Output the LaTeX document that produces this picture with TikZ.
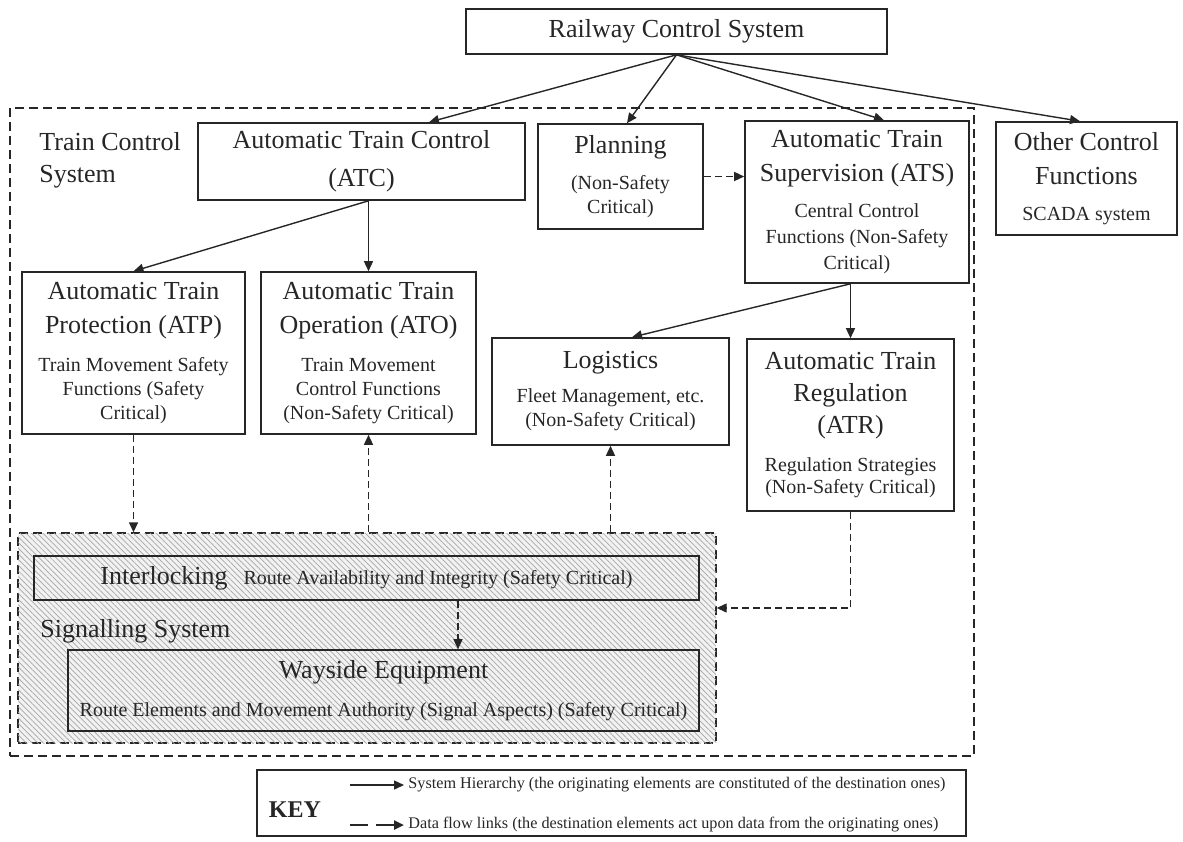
\documentclass[tikz,border=0pt]{standalone}
\usepackage{fontspec}
\setmainfont{Liberation Serif}
\usepackage{tikz}
\usetikzlibrary{arrows.meta,patterns.meta,positioning}
\definecolor{ink}{HTML}{262626}
\newcommand{\bigtxt}{\fontsize{13}{17}\selectfont}
\newcommand{\smtxt}{\fontsize{10}{12}\selectfont}
\newcommand{\keytxt}{\fontsize{8.1}{10}\selectfont}

\begin{document}
\begin{tikzpicture}[x=0.5pt,y=-0.5pt,
  box/.style={draw=ink,line width=0.8pt,align=center,inner sep=0pt,text=ink,font=\smtxt},
  hier/.style={ink,line width=0.7pt,-{Triangle[length=5pt,width=4.5pt]}},
  flow/.style={hier,dash pattern=on 3.5pt off 2pt},
  dashframe/.style={draw=ink,line width=0.7pt,dash pattern=on 4.5pt off 2.5pt},
  lbl/.style={inner sep=0pt,text=ink,font=\fontsize{13}{16}\selectfont}]
  \useasboundingbox (0,0) rectangle (1183,841);
  \node[dashframe,minimum width=482pt,minimum height=324pt] (tcs) at (492,432) {};
  \node[dashframe,fill=black!5,postaction={pattern={Lines[angle=-45,distance=2pt,line width=0.35pt]},pattern color=black!35},minimum width=349pt,minimum height=105pt] (sig) at (367,638) {};
  \node[box,minimum width=210.5pt,minimum height=22.5pt] (rcs) at (676.5,31.5) {\bigtxt Railway Control System};
  \node[box,minimum width=163.5pt,minimum height=38.5pt] (atc) at (361.5,161.5) {\bigtxt Automatic Train Control\\[7pt]\bigtxt (ATC)};
  \node[box,minimum width=82.5pt,minimum height=52.5pt] (plan) at (620.5,176.5) {\bigtxt Planning\\[6pt](Non-Safety\\Critical)};
  \node[box,minimum width=112pt,minimum height=81pt] (ats) at (857,202) {\bigtxt Automatic Train\\[5pt]\bigtxt Supervision (ATS)\\[6pt]Central Control\\[1pt]Functions (Non-Safety\\[1pt]Critical)};
  \node[box,minimum width=90.5pt,minimum height=56.5pt] (oth) at (1086.5,178.5) {\bigtxt Other Control\\[5pt]\bigtxt Functions\\[6pt]SCADA system};
  \node[box,minimum width=111.5pt,minimum height=81pt] (atp) at (133.5,353) {\bigtxt Automatic Train\\[5pt]\bigtxt Protection (ATP)\\[7pt]Train Movement Safety\\Functions (Safety\\Critical)};
  \node[box,minimum width=107.5pt,minimum height=81pt] (ato) at (368.5,353) {\bigtxt Automatic Train\\[5pt]\bigtxt Operation (ATO)\\[7pt]Train Movement\\Control Functions\\(Non-Safety Critical)};
  \node[box,minimum width=118.5pt,minimum height=53.5pt] (log) at (610.5,391.5) {\bigtxt Logistics\\[5pt]Fleet Management, etc.\\(Non-Safety Critical)};
  \node[box,minimum width=103.5pt,minimum height=86pt] (atr) at (850.5,425) {\bigtxt Automatic Train\\[4pt]\bigtxt Regulation\\[4pt]\bigtxt (ATR)\\[7pt]Regulation Strategies\\[-1pt](Non-Safety Critical)};
  \node[box,minimum width=332.5pt,minimum height=22pt] (ilk) at (366.5,578) {\bigtxt Interlocking\hspace{8pt}\smtxt Route Availability and Integrity (Safety Critical)};
  \node[box,minimum width=315.5pt,minimum height=40.5pt] (way) at (383.5,690.5) {\bigtxt Wayside Equipment\\[7pt]Route Elements and Movement Authority (Signal Aspects) (Safety Critical)};
  \node[lbl,anchor=north west,align=left] (tcslbl) at (39,132) {Train Control\\System};
  \node[lbl,anchor=base west] (siglbl) at (40,637) {Signalling System};
  \draw[hier] (rcs.south) -- ([xshift=33.75pt]atc.north);
  \draw[hier] (rcs.south) -- ([xshift=3.25pt]plan.north);
  \draw[hier] (rcs.south) -- ([xshift=13.5pt]ats.north);
  \draw[hier] (rcs.south) -- ([xshift=-3.25pt]oth.north);
  \draw[hier] (ato.north |- atc.south) -- (atp.north);
  \draw[hier] (ato.north |- atc.south) -- (ato.north);
  \draw[hier] (atr.north |- ats.south) -- ([xshift=10.75pt]log.north);
  \draw[hier] (atr.north |- ats.south) -- (atr.north);
  \draw[flow] (plan.east) -- (plan.east -| ats.west);
  \draw[flow] (atp.south) -- (atp.south |- sig.north);
  \draw[flow] (ato.south |- sig.north) -- (ato.south);
  \draw[flow] (log.south |- sig.north) -- (log.south);
  \draw[flow] (atr.south) |- ([yshift=15pt]sig.east);
  \draw[flow] ([xshift=45.75pt]ilk.south) -- ([xshift=45.75pt]ilk.south |- way.north);
  % key
  \node[draw=ink,line width=0.8pt,minimum width=354.5pt,minimum height=33pt] (key) at (611.5,803) {};
  \node[inner sep=0pt,text=ink,font=\fontsize{12}{14}\selectfont\bfseries] (keylbl) at (295,810) {KEY};
  \coordinate (h0) at (350,785); \coordinate (h1) at (404,785);
  \coordinate (d0) at (350,825); \coordinate (d1) at (404,825);
  \draw[hier] (h0) -- (h1);
  \draw[hier,line width=1.2pt,dash pattern=on 9pt off 4pt on 30pt] (d0) -- (d1);
  \node[anchor=west,inner sep=0pt,text=ink,font=\keytxt] (hiertxt) at (408,785) {System Hierarchy (the originating elements are constituted of the destination ones)};
  \node[anchor=west,inner sep=0pt,text=ink,font=\keytxt] (flowtxt) at (408,825) {Data flow links (the destination elements act upon data from the originating ones)};
\end{tikzpicture}
\end{document}
